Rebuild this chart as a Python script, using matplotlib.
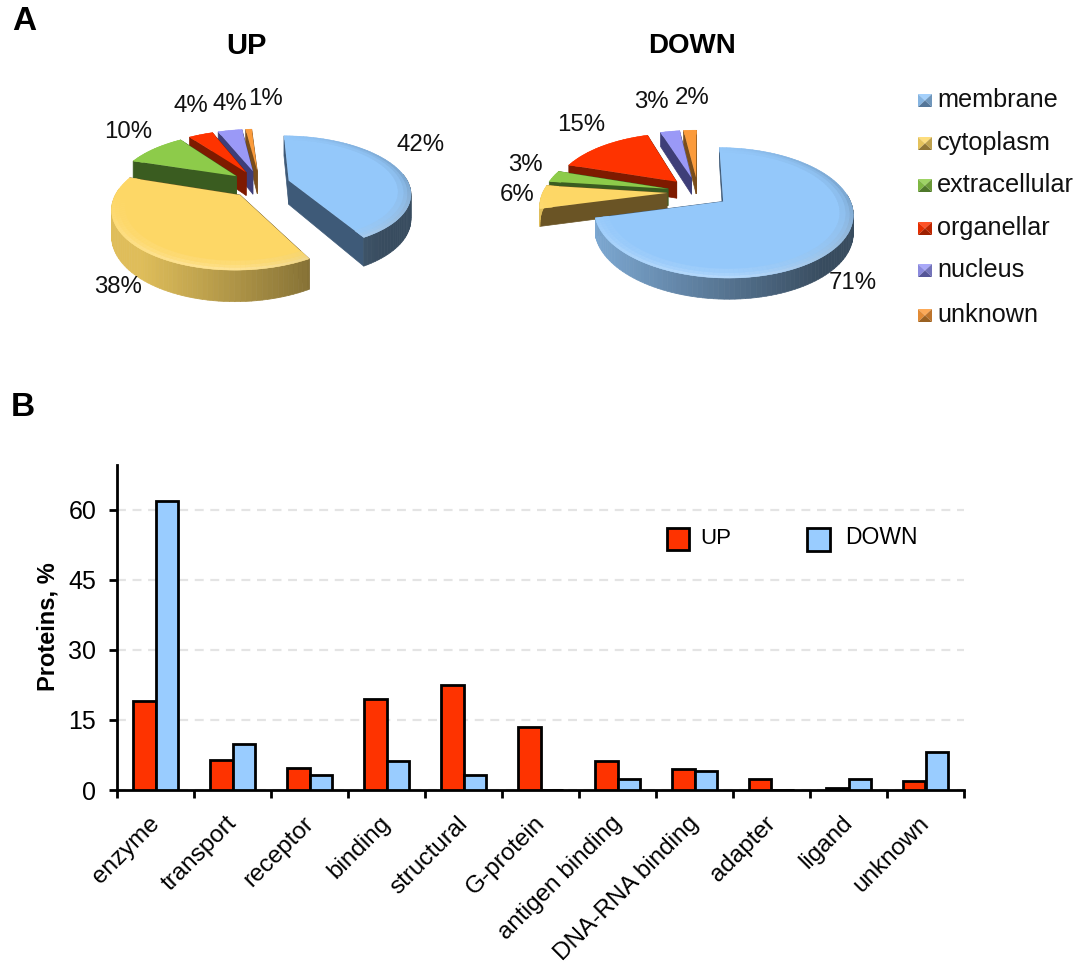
import numpy as np
import matplotlib
matplotlib.use('Agg')
import matplotlib.pyplot as plt
from matplotlib.colors import to_rgb
from matplotlib.patches import Rectangle
from matplotlib.transforms import Transform, ScaledTranslation

plt.rcParams['font.family'] = ['Liberation Sans', 'DejaVu Sans']

W, H = 1076, 963

# localisation, percent of proteins
locations = ['membrane', 'cytoplasm', 'extracellular', 'organellar', 'nucleus', 'unknown']
loc_up = [42, 38, 10, 4, 4, 1]
loc_down = [71, 6, 3, 15, 3, 2]
loc_colors = ['#94c8fa', '#fdd766', '#8dcb4a', '#fe3300', '#9a99f7', '#fb9b3b']
loc_dark = ['#3e5a78', '#6a5425', '#3a5c20', '#7e1a00', '#3e3e78', '#7a4d1a']

# function, percent of proteins
functions = ['enzyme', 'transport', 'receptor', 'binding', 'structural', 'G-protein',
             'antigen binding', 'DNA-RNA binding', 'adapter', 'ligand', 'unknown']
func_up = [19, 6.5, 4.8, 19.5, 22.5, 13.5, 6.2, 4.4, 2.4, 0.4, 2]
func_down = [61.8, 9.8, 3.2, 6.3, 3.2, 0, 2.4, 4.0, 0, 2.4, 8.2]


class Tilt(Transform):
    # pie plane -> figure pixels, with a bit of perspective
    input_dims = 2
    output_dims = 2

    def __init__(self, cx, cy, rx, ry, k):
        super().__init__()
        self.cx, self.cy, self.rx, self.ry, self.k = cx, cy, rx, ry, k

    def transform_non_affine(self, values):
        values = np.asarray(values, dtype=float)
        p = 1 / (1 + self.k * values[:, 1])
        return np.column_stack([self.cx + self.rx * values[:, 0] * p,
                                self.cy - self.ry * values[:, 1] * p])


def mix(c, other, t):
    return tuple((1 - t) * np.array(to_rgb(c)) + t * np.array(to_rgb(other)))


def pie3d(ax, values, tilt, depth, order):
    # rounded percents may not add up to 100, so no normalising here
    wedges, _ = ax.pie(np.array(values) / 100, normalize=False, startangle=90, counterclock=False,
                       explode=[0.25] * len(values), colors=loc_colors, wedgeprops=dict(linewidth=0))

    def pts(x, y):
        xy = np.column_stack([x, y])
        out = tilt.transform_non_affine(xy)
        p = 1 / (1 + tilt.k * xy[:, 1])
        return out[:, 0], out[:, 1], depth * p

    for i, w in enumerate(wedges):
        z = 10 + order[i] * 2
        w.set_transform(tilt + ax.transData)
        w.set_zorder(z + 1)
        cx0, cy0 = w.center
        t = np.radians(np.arange(w.theta1, w.theta2 + 2, 2.0))
        t[-1] = np.radians(w.theta2)

        # straight side walls
        for a in (t[0], t[-1]):
            X, Y, d = pts(np.array([cx0, cx0 + np.cos(a)]), np.array([cy0, cy0 + np.sin(a)]))
            ax.fill([X[0], X[1], X[1], X[0]], [Y[0], Y[1], Y[1] + d[1], Y[0] + d[0]],
                    color=loc_dark[i], lw=0.5, zorder=z)

        # curved outer wall, darker to the right
        X, Y, d = pts(cx0 + np.cos(t), cy0 + np.sin(t))
        for j in range(len(t) - 1):
            if np.sin(t[j]) > 0.1 and np.sin(t[j + 1]) > 0.1:
                continue
            pos = np.clip((X[j] - (tilt.cx - tilt.rx)) / (2 * tilt.rx), 0, 1)
            shade = mix(loc_colors[i], 'black', 0.12 + 0.5 * pos)
            ax.fill([X[j], X[j + 1], X[j + 1], X[j]],
                    [Y[j], Y[j + 1], Y[j + 1] + d[j + 1], Y[j] + d[j]],
                    color=shade, lw=0.5, zorder=z + 0.5)

        # soft bevel along the rim
        for r_out, r_in, strength in [(1.0, 0.97, 1.0), (0.97, 0.94, 0.6), (0.94, 0.90, 0.3)]:
            Xo, Yo, _ = pts(cx0 + r_out * np.cos(t), cy0 + r_out * np.sin(t))
            Xi, Yi, _ = pts(cx0 + r_in * np.cos(t), cy0 + r_in * np.sin(t))
            for j in range(len(t) - 1):
                east, north = np.cos(t[j]), np.sin(t[j])
                c = mix(loc_colors[i], 'black', 0.16 * max(east, 0) * strength)
                c = mix(c, 'white', 0.3 * max(-north, 0) * strength)
                ax.fill([Xo[j], Xo[j + 1], Xi[j + 1], Xi[j]], [Yo[j], Yo[j + 1], Yi[j + 1], Yi[j]],
                        color=c, lw=0.3, zorder=z + 1.5)


fig = plt.figure(figsize=(W / 100, H / 100), dpi=100)

# bottom panel: bars
ax = fig.add_axes([117 / W, 1 - 790 / H, (964 - 117) / W, (790 - 465) / H])
x = np.arange(len(functions))
bar_w = 0.286
ax.bar(x + 0.5 - bar_w / 2, func_up, bar_w, color='#fe3300', edgecolor='black', linewidth=2, zorder=3, label='UP')
ax.bar(x + 0.5 + bar_w / 2, func_down, bar_w, color='#99ccff', edgecolor='black', linewidth=2, zorder=3, label='DOWN')
ax.set_xlim(0, len(functions))
ax.set_ylim(0, 69.6)
ax.set_yticks([0, 15, 30, 45, 60])
ax.yaxis.grid(True, color='#e4e4e4', linestyle=(0, (4, 3)), linewidth=1.6, zorder=0)
ax.set_axisbelow(True)
ax.spines['top'].set_visible(False)
ax.spines['right'].set_visible(False)
ax.spines['left'].set_linewidth(2)
ax.spines['bottom'].set_linewidth(2)
ax.set_xticks(np.arange(len(functions) + 1))
ax.set_xticklabels([])
ax.set_xticks(x + 0.5, functions, minor=True, rotation=45, ha='right', va='top',
              rotation_mode='anchor', fontsize=17.5)
ax.tick_params(axis='x', which='minor', length=0, pad=16)
ax.tick_params(axis='x', which='major', width=2, length=6)
ax.tick_params(axis='y', which='major', width=2, length=6, labelsize=18, pad=9)
# rotated names sit a little left of the group centre
for lab in ax.get_xticklabels(minor=True):
    lab.set_transform(lab.get_transform() + ScaledTranslation(-7 / 100, 0, fig.dpi_scale_trans))
ax.set_ylabel('Proteins, %', fontsize=17, fontweight='bold')
ax.yaxis.set_label_coords((60 - 117) / (964 - 117), (790 - 627) / (790 - 465))

# overlay in figure pixels: pies, headings, legends
top = fig.add_axes([0, 0, 1, 1], facecolor='none')

tilt_up = Tilt(260, 184, 120, 55, 0.2)
tilt_down = Tilt(698, 192, 124, 60, 0.17)
pie3d(top, loc_up, tilt_up, 24, [4, 5, 3, 2, 1, 0])
pie3d(top, loc_down, tilt_down, 17, [5, 4, 3, 2, 1, 0])

top.set_aspect('auto')
top.set_xlim(0, W)
top.set_ylim(H, 0)
top.axis('off')

top.text(246, 46, 'UP', fontsize=21, fontweight='bold', ha='center', va='center')
top.text(692, 46, 'DOWN', fontsize=20, fontweight='bold', ha='center', va='center')
top.text(24, 21, 'A', fontsize=24, fontweight='bold', ha='center', va='center')
top.text(23, 408, 'B', fontsize=24, fontweight='bold', ha='center', va='center')

label_pos_up = [(421, 145), (118, 287), (128, 132), (191, 106), (230, 104), (265, 99)]
label_pos_down = [(853, 283), (517, 195), (525, 165), (581, 125), (651, 102), (692, 98)]
for vals, places in [(loc_up, label_pos_up), (loc_down, label_pos_down)]:
    for v, (px, py) in zip(vals, places):
        top.text(px, py, f'{v}%', fontsize=17.3, ha='center', va='center', color='#111111', zorder=30)

# legend of the pies, small bevelled squares
leg_y = [100, 143, 185, 228, 270, 315]
for name, y, c, dark in zip(locations, leg_y, loc_colors, loc_dark):
    x0, x1, y0, y1 = 918, 932, y - 6, y + 7
    xm, ym = (x0 + x1) / 2, (y0 + y1) / 2
    top.fill([x0, x1, xm], [y0, y0, ym], color=mix(c, 'white', 0.15), lw=0, zorder=20)
    top.fill([x0, x0, xm], [y0, y1, ym], color=mix(c, 'black', 0.1), lw=0, zorder=20)
    top.fill([x1, x1, xm], [y0, y1, ym], color=mix(c, 'black', 0.25), lw=0, zorder=20)
    top.fill([x0, x1, xm], [y1, y1, ym], color=mix(c, dark, 0.75), lw=0, zorder=20)
    top.text(937, y, name, fontsize=18.2, ha='left', va='center', color='#111111')

# legend of the bars
top.add_patch(Rectangle((667, 528), 22, 22, facecolor='#fe3300', edgecolor='black', lw=2))
top.text(700, 538, 'UP', fontsize=16, ha='left', va='center')
top.add_patch(Rectangle((807, 528), 23, 23, facecolor='#99ccff', edgecolor='black', lw=2))
top.text(845, 538, 'DOWN', fontsize=16.5, ha='left', va='center')

fig.savefig('out.png', dpi=100)
